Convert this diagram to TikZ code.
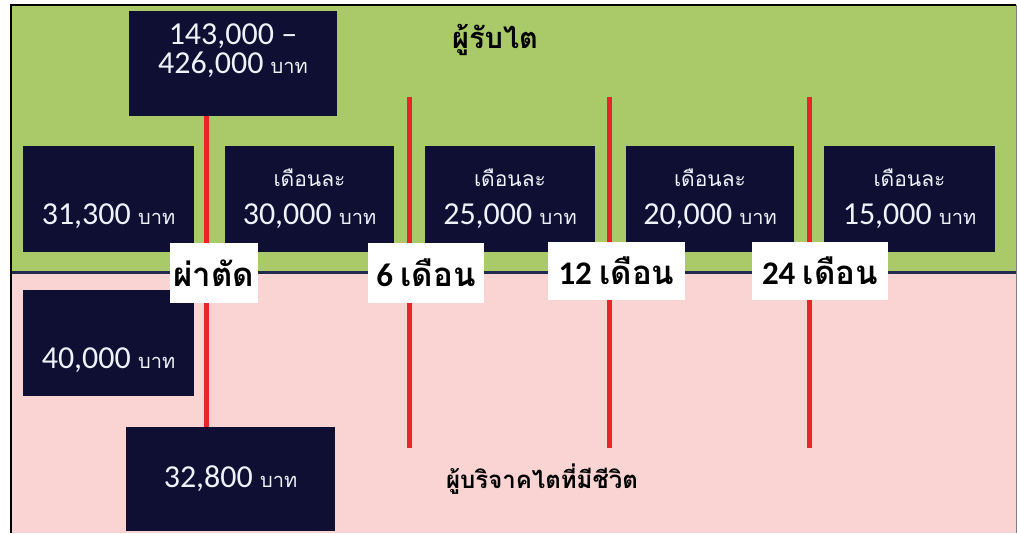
\documentclass[tikz,border=0pt]{standalone}
\usepackage{fontspec}
\setmainfont{Carlito}
\newfontfamily\thai[Script=Thai]{Loma}
\definecolor{grn}{HTML}{AACA69}
\definecolor{pnk}{HTML}{F9D4D3}
\definecolor{navy}{HTML}{0E0F33}
\definecolor{redl}{HTML}{E8262A}
\definecolor{divl}{HTML}{1F2A4F}
\definecolor{numc}{HTML}{EEF2FA}
\newcommand{\baht}{{\thai\fontsize{20}{20}\selectfont บาท}}
\newcommand{\mth}{{\thai\fontsize{21}{21}\selectfont เดือนละ}}
\tikzset{
  money/.style={fill=navy, text=numc, inner sep=0pt, align=center,
    font=\fontsize{32}{38}\selectfont},
  tick/.style={draw=redl, line width=5pt},
  lbl/.style={fill=white, inner sep=0pt, text=black,
    font=\fontsize{33}{33}\selectfont\bfseries},
  ttl/.style={text=black, font=\thai\bfseries\fontsize{26}{26}\selectfont}
}
\begin{document}
\begin{tikzpicture}[x=1pt,y=-1pt]
\useasboundingbox (0,0) rectangle (1017,533);
% background bands
\fill[grn] (11,5) rectangle (1016,272);
\fill[pnk] (11,272) rectangle (1016,533);
\draw[divl, line width=3pt] (11,272) -- (1016,272);
\draw[black, line width=1.5pt] (11,533) -- (11,5) -- (1016,5);
\draw[gray, line width=1pt] (1016,5) -- (1016,533);
% titles
\node[ttl, font=\thai\bfseries\fontsize{29}{29}\selectfont] (recv) at (495,40) {ผู้รับไต};
\node[ttl, font=\thai\bfseries\fontsize{24}{24}\selectfont] (donor) at (542,479) {ผู้บริจาคไตที่มีชีวิต};
% boxes
\node[money, minimum width=208pt, minimum height=105pt] (top) at (233,63.5) {};
\node[text=numc, align=center, inner sep=0pt, font=\fontsize{32}{29}\selectfont] (toptxt) at (233,51) {143,000 --\\426,000 \baht};
\node[money, minimum width=171pt, minimum height=106pt] (b1) at (108.5,198.5) {\phantom{\mth}\\31,300 \baht};
\node[money, minimum width=169pt, minimum height=106pt] (b2) at (309.5,198.5) {\mth\\30,000 \baht};
\node[money, minimum width=170pt, minimum height=106pt] (b3) at (510,198.5) {\mth\\25,000 \baht};
\node[money, minimum width=168pt, minimum height=106pt] (b4) at (710,198.5) {\mth\\20,000 \baht};
\node[money, minimum width=171pt, minimum height=106pt] (b5) at (909.5,198.5) {\mth\\15,000 \baht};
\node[money, minimum width=171pt, minimum height=106pt] (b6) at (108.5,343) {\phantom{\mth}\\40,000 \baht};
\node[money, minimum width=209pt, minimum height=104pt] (b7) at (230.5,479) {32,800 \baht};
% red timeline ticks
\coordinate (s0) at (206,116);
\coordinate (e0) at (206,427);
\coordinate (s1) at (409,97);
\coordinate (e1) at (409,448);
\coordinate (s2) at (609,97);
\coordinate (e2) at (609,448);
\coordinate (s3) at (809,97);
\coordinate (e3) at (809,448);
\draw[tick] (s0) -- (e0);
\draw[tick] (s1) -- (e1);
\draw[tick] (s2) -- (e2);
\draw[tick] (s3) -- (e3);
% labels
\node[lbl, minimum width=88pt, minimum height=60pt] (l0) at (214,273) {{\thai ผ่าตัด}};
\node[lbl, minimum width=116pt, minimum height=60pt] (l1) at (426,273) {6 {\thai เดือน}};
\node[lbl, minimum width=137pt, minimum height=58pt] (l2) at (616.5,271) {12 {\thai เดือน}};
\node[lbl, minimum width=136pt, minimum height=58pt] (l3) at (820,271) {24 {\thai เดือน}};
\end{tikzpicture}
\end{document}
